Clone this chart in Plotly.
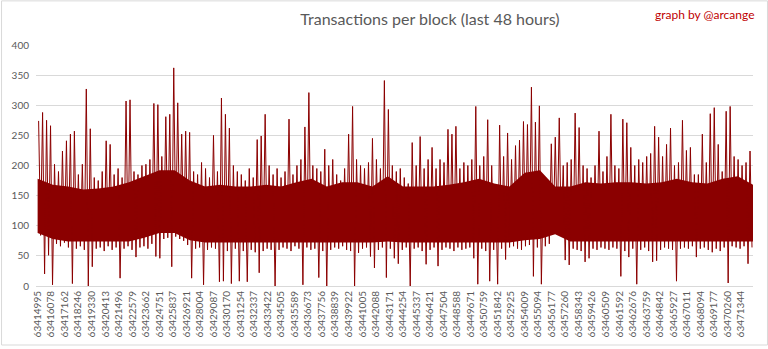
import numpy as np
import plotly.graph_objects as go

# ---- data ----
block_labels = [
    "63414995", "63416078", "63417162", "63418246", "63419330", "63420413", "63421496",
    "63422579", "63423662", "63424751", "63425837", "63426921", "63428004", "63429087",
    "63430170", "63431254", "63432337", "63433422", "63434505", "63435589", "63436673",
    "63437756", "63438839", "63439922", "63441005", "63442088", "63443171", "63444254",
    "63445337", "63446421", "63447504", "63448588", "63449671", "63450759", "63451842",
    "63452925", "63454009", "63455094", "63456177", "63457260", "63458343", "63459426",
    "63460509", "63461592", "63462676", "63463759", "63464842", "63465927", "63467011",
    "63468094", "63469177", "63470260", "63471344",
]
LABEL_STEP = 1083      # blocks between two labels
N_BLOCKS = 57275       # blocks shown

# highest / lowest transaction count in each successive slice of blocks
slice_max = [
    274, 288, 275, 266, 202, 190, 224, 241, 252, 257, 185, 202, 327, 261, 180, 175, 190, 241, 235, 185,
    195, 180, 307, 309, 190, 185, 200, 202, 210, 303, 301, 215, 281, 285, 362, 304, 252, 257, 255, 190,
    185, 205, 195, 180, 250, 190, 312, 285, 262, 200, 190, 185, 175, 195, 180, 243, 249, 285, 200, 185,
    195, 180, 190, 277, 185, 200, 210, 264, 321, 200, 195, 190, 227, 200, 210, 185, 175, 195, 252, 298,
    210, 200, 195, 205, 245, 210, 195, 341, 293, 200, 190, 195, 180, 170, 238, 200, 248, 195, 210, 230,
    195, 210, 205, 260, 252, 265, 195, 205, 200, 210, 298, 200, 215, 276, 200, 165, 267, 215, 254, 210,
    233, 242, 273, 268, 330, 272, 299, 180, 175, 236, 247, 279, 200, 205, 210, 287, 263, 200, 195, 180,
    200, 257, 190, 215, 285, 200, 195, 277, 271, 230, 200, 210, 205, 215, 220, 265, 247, 215, 235, 262,
    200, 205, 275, 225, 230, 185, 185, 252, 205, 286, 296, 235, 190, 290, 298, 215, 210, 200, 205, 224,
]
slice_min = [
    84, 20, 51, 2, 70, 66, 72, 64, 4, 62, 66, 60, 0, 32, 62, 64, 58, 66, 60, 64,
    13, 62, 66, 60, 48, 64, 66, 62, 70, 49, 46, 78, 80, 32, 82, 78, 75, 68, 13, 62,
    64, 2, 60, 64, 62, 7, 8, 58, 4, 62, 8, 58, 7, 60, 56, 22, 58, 62, 60, 0,
    60, 64, 62, 58, 66, 62, 2, 64, 60, 62, 14, 58, 0, 60, 64, 62, 66, 60, 58, 0,
    55, 62, 64, 49, 30, 60, 64, 14, 62, 46, 37, 60, 64, 0, 62, 64, 58, 36, 60, 64,
    33, 60, 64, 62, 58, 64, 60, 62, 64, 46, 3, 62, 58, 8, 60, 3, 62, 44, 64, 66,
    62, 60, 66, 68, 16, 64, 3, 66, 70, 90, 98, 88, 43, 35, 62, 60, 58, 40, 46, 62,
    60, 64, 62, 60, 64, 62, 16, 58, 48, 62, 3, 60, 64, 58, 40, 42, 60, 64, 62, 60,
    8, 62, 64, 62, 66, 48, 62, 64, 60, 56, 62, 58, 64, 5, 66, 64, 62, 66, 37, 64,
]
# dense core of the band, hour by hour (48 hours)
hour_core_top = [
    178, 168, 165, 160, 162, 165, 172, 182, 192, 192, 175, 165, 168, 165, 165, 168,
    165, 172, 178, 165, 172, 172, 165, 182, 165, 165, 165, 168, 172, 178, 170, 165,
    188, 192, 165, 165, 172, 170, 172, 172, 170, 172, 178, 172, 170, 178, 182, 168,
]
hour_core_bot = [
    88, 78, 74, 74, 74, 74, 74, 80, 88, 88, 76, 72, 72, 72, 72, 72,
    72, 72, 72, 72, 72, 72, 72, 74, 72, 72, 72, 72, 72, 72, 72, 72,
    76, 78, 86, 74, 74, 74, 74, 74, 74, 74, 74, 74, 74, 74, 74, 74,
]

RED = "#8B0000"
GRAY = "#595959"
GRID = "#d9d9d9"
FONT = "Lato"

n = len(slice_max)
w = N_BLOCKS / n
xs, ys = [], []
for i in range(n):
    xs += [(i + 0.25) * w, (i + 0.75) * w]
    ys += [slice_max[i], slice_min[i]]

hx = np.linspace(0, N_BLOCKS, len(hour_core_top))

fig = go.Figure()
fig.add_trace(go.Scatter(x=hx, y=hour_core_bot, mode="lines", line=dict(width=0, color=RED),
                         hoverinfo="skip", showlegend=False))
fig.add_trace(go.Scatter(x=hx, y=hour_core_top, mode="lines", line=dict(width=0, color=RED),
                         fill="tonexty", fillcolor=RED, hoverinfo="skip", showlegend=False))
fig.add_trace(go.Scatter(x=xs, y=ys, mode="lines", line=dict(width=1.0, color=RED),
                         showlegend=False))

tickvals = [k * LABEL_STEP for k in range(len(block_labels))]

L, R, T, B = 35, 15, 45, 61
W, H = 768, 349
pw, ph = W - L - R, H - T - B

fig.update_layout(
    width=W, height=H,
    margin=dict(l=L, r=R, t=T, b=B),
    paper_bgcolor="white", plot_bgcolor="white",
    font=dict(family=FONT, color=GRAY),
    title=dict(text="Transactions per block (last 48 hours)",
               x=430 / W, y=1 - 19 / H, xanchor="center", yanchor="middle",
               font=dict(family=FONT, size=16, color=GRAY)),
    xaxis=dict(range=[-130, N_BLOCKS], tickmode="array", tickvals=tickvals, ticktext=block_labels,
               tickangle=-90, tickfont=dict(size=10, color=GRAY), showgrid=False,
               showline=True, linecolor=GRID, linewidth=1, zeroline=False, ticks=""),
    yaxis=dict(range=[0, 400], tickvals=list(range(0, 401, 50)), tickfont=dict(size=10, color=GRAY),
               showgrid=True, gridcolor=GRID, gridwidth=1, zeroline=False, showline=False,
               ticks="", ticklabelstandoff=6),
    annotations=[dict(text="graph by @arcange", xref="paper", yref="paper",
                      x=(757 - L) / pw, y=(H - B - 14) / ph, xanchor="right", yanchor="middle",
                      showarrow=False, font=dict(family=FONT, size=12, color="#c00000"))],
    shapes=[dict(type="rect", xref="paper", yref="paper",
                 x0=(0.5 - L) / pw, x1=(W - 0.5 - L) / pw,
                 y0=(H - B - 347.5) / ph, y1=(H - B - 0.5) / ph,
                 line=dict(color=GRID, width=1), fillcolor="rgba(0,0,0,0)", layer="below")],
)

fig.write_html("out.html")
